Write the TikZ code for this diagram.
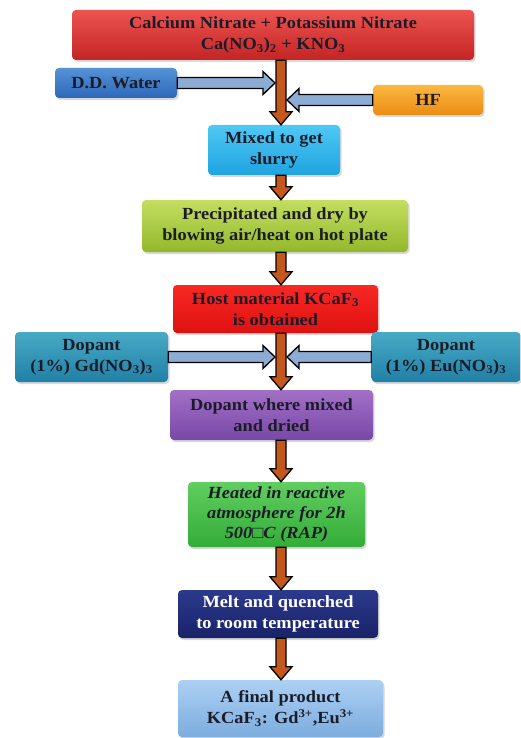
\documentclass[tikz,border=0pt]{standalone}
\usepackage{fontspec}
\setmainfont{Liberation Serif}[FakeStretch=1.08]
\usetikzlibrary{calc,shadows}
\definecolor{txt}{RGB}{28,28,40}
\definecolor{flowbrown}{RGB}{196,88,28}
\definecolor{flowblue}{RGB}{140,172,212}
\tikzset{
  box/.style={rounded corners=4pt, align=center, inner sep=0pt, text=txt,
    font=\fontsize{17}{21}\selectfont\bfseries,
    drop shadow={opacity=0.3, shadow xshift=1.5pt, shadow yshift=-2pt}},
  vfl/.style={fill=flowbrown, draw=black, line width=1.3pt, line join=miter},
  hfl/.style={fill=flowblue, draw=black, line width=1.3pt, line join=miter},
}
\newcommand\vflow[2]{%
  \filldraw[vfl] let \p1=(#1.south -| trunk), \p2=(#2.north -| trunk) in
   (\x1-5pt,\y1) -- (\x1+5pt,\y1) -- (\x1+5pt,\y2+13pt) -- (\x1+11pt,\y2+13pt)
   -- (\x1,\y2) -- (\x1-11pt,\y2+13pt) -- (\x1-5pt,\y2+13pt) -- cycle;}
\newcommand\hflow[3]{%
  \filldraw[hfl] let \p1=(#1), \p2=(#1 -| #2) in
   (\x1,\y1+5.5pt) -- ({\x2-(#3)},\y1+5.5pt) -- ({\x2-(#3)},\y1+11.5pt)
   -- (\x2,\y1) -- ({\x2-(#3)},\y1-11.5pt) -- ({\x2-(#3)},\y1-5.5pt)
   -- (\x1,\y1-5.5pt) -- cycle;}
\begin{document}
\begin{tikzpicture}[x=1pt,y=-1pt]
\useasboundingbox[fill=white] (0,0) rectangle (520,738);
\coordinate (trunk) at (281,0);
\coordinate (tl) at (275,0);
\coordinate (tr) at (287,0);

\node[box, minimum width=402pt, minimum height=50pt, top color={rgb,255:red,236;green,84;blue,80}, bottom color={rgb,255:red,196;green,36;blue,36}] (top) at (273,35)
  {Calcium Nitrate + Potassium Nitrate\\Ca(NO\textsubscript{3})\textsubscript{2} + KNO\textsubscript{3}};
\node[box, minimum width=122pt, minimum height=30pt, top color={rgb,255:red,86;green,146;blue,214}, bottom color={rgb,255:red,44;green,104;blue,184}] (water) at (116,83) {D.D. Water};
\node[box, minimum width=110pt, minimum height=30pt, top color={rgb,255:red,252;green,184;blue,64}, bottom color={rgb,255:red,234;green,140;blue,20}] (hf) at (428,100) {HF};
\node[box, minimum width=132pt, minimum height=50pt, top color={rgb,255:red,80;green,200;blue,245}, bottom color={rgb,255:red,30;green,164;blue,224}] (mixed) at (274,150) {Mixed to get\\slurry};
\node[box, minimum width=266pt, minimum height=52pt, top color={rgb,255:red,196;green,222;blue,96}, bottom color={rgb,255:red,146;green,184;blue,44}] (precip) at (275,226) {Precipitated and dry by\\blowing air/heat on hot plate};
\node[box, minimum width=205pt, minimum height=48pt, top color={rgb,255:red,248;green,40;blue,36}, bottom color={rgb,255:red,222;green,18;blue,18}] (host) at (275.5,309) {Host material KCaF\textsubscript{3}\\is obtained};
\node[box, minimum width=153pt, minimum height=50pt, top color={rgb,255:red,72;green,170;blue,198}, bottom color={rgb,255:red,32;green,128;blue,166}] (gd) at (91.5,357) {Dopant\\(1\%) Gd(NO\textsubscript{3})\textsubscript{3}};
\node[box, minimum width=149pt, minimum height=50pt, top color={rgb,255:red,72;green,170;blue,198}, bottom color={rgb,255:red,32;green,128;blue,166}] (eu) at (446,357) {Dopant\\(1\%) Eu(NO\textsubscript{3})\textsubscript{3}};
\node[box, minimum width=203pt, minimum height=50pt, top color={rgb,255:red,162;green,112;blue,198}, bottom color={rgb,255:red,120;green,72;blue,168}] (purple) at (271.5,415) {Dopant where mixed\\and dried};
\node[box, minimum width=177pt, minimum height=65pt, font=\fontsize{17}{20}\selectfont\bfseries\itshape, top color={rgb,255:red,96;green,206;blue,96}, bottom color={rgb,255:red,52;green,172;blue,56}] (heated) at (276.5,514.5) {Heated in reactive\\atmosphere for 2h\\500□C (RAP)};
\node[box, minimum width=200pt, minimum height=48pt, text=white, top color={rgb,255:red,44;green,58;blue,140}, bottom color={rgb,255:red,24;green,34;blue,104}] (navy) at (278,614) {Melt and quenched\\to room temperature};
\node[box, minimum width=205pt, minimum height=57pt, top color={rgb,255:red,172;green,208;blue,244}, bottom color={rgb,255:red,124;green,172;blue,222}] (final) at (280.5,708.5) {A final product\\KCaF\textsubscript{3}: Gd\textsuperscript{3+},Eu\textsuperscript{3+}};

\vflow{top}{mixed}
\vflow{mixed}{precip}
\vflow{precip}{host}
\vflow{host}{purple}
\vflow{purple}{heated}
\vflow{heated}{navy}
\vflow{navy}{final}

\hflow{water.east}{tl}{12pt}
\hflow{hf.west}{tr}{-12pt}
\hflow{gd.east}{tl}{12pt}
\hflow{eu.west}{tr}{-12pt}
\end{tikzpicture}
\end{document}
